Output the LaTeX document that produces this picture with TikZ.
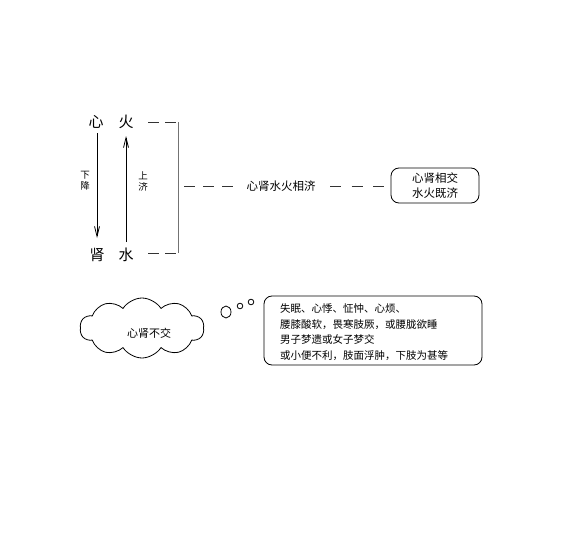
\documentclass[tikz,border=0pt]{standalone}
\usepackage{fontspec}
\setmainfont{Noto Sans CJK SC}
\usetikzlibrary{shapes.symbols,arrows.meta}
\begin{document}
\begin{tikzpicture}[x=1pt,y=-1pt,
  big/.style={font=\fontsize{15}{16}\selectfont,inner sep=1pt},
  small/.style={font=\fontsize{9.5}{11}\selectfont,align=center,inner sep=1pt},
  mid/.style={font=\fontsize{11.5}{14}\selectfont,inner sep=1pt},
  dashln/.style={draw=black!80,line width=0.8pt,dash pattern=on 11pt off 6pt},
  brk/.style={draw=black!55,line width=0.9pt},
  arr/.style={draw=black,line width=0.8pt,-{Straight Barb[length=10pt,width=5pt]}},
  rbox/.style={draw=black,line width=0.8pt,rounded corners=8pt}]
\useasboundingbox (0,0) rectangle (582,554);
\node[big] (xin) at (96,122) {心};
\node[big] (huo) at (126,122) {火};
\node[big] (shen) at (97,255) {肾};
\node[big] (shui) at (126,255) {水};
\draw[arr] (97,133) -- (97,238);
\draw[arr] (126,242) -- (126,136);
\node[small] (xj) at (85,181) {下\\降};
\node[small] (sj) at (143,181) {上\\济};
\coordinate (t1) at (148,122);
\coordinate (t2) at (178,122);
\coordinate (b1) at (148,253);
\coordinate (b2) at (178,253);
\draw[dashln] (t1) -- (t2);
\draw[dashln] (b1) -- (b2);
\draw[brk] (t2) -- (b2);
\node[mid] (mid) at (281,186) {心肾水火相济};
\coordinate (m1) at (184,186);
\coordinate (m1e) at (233,186);
\coordinate (m2s) at (330,186);
\coordinate (m2) at (384,186);
\draw[dashln,dash pattern=on 11pt off 8pt] (m1) -- (m1e);
\draw[dashln,dash pattern=on 11pt off 10.5pt] (m2s) -- (m2);
\node[rbox,mid,minimum width=88pt,minimum height=35pt,align=center,font=\fontsize{11.5}{15}\selectfont] (jiao) at (435,185.5) {心肾相交\\水火既济};
\node[cloud,draw,line width=0.8pt,cloud puffs=10,cloud puff arc=115,aspect=2.1,minimum width=124pt,minimum height=60pt,inner sep=0pt] (cloud) at (142,328) {};
\node[mid,font=\fontsize{11}{13}\selectfont] (cl) at (149,333) {心肾不交};
\draw[line width=0.8pt] (226,312) ellipse (5pt and 6pt);
\draw[line width=0.8pt] (240,306) circle (2.8pt);
\draw[line width=0.8pt] (251,302) circle (2.8pt);
\node[rbox,minimum width=218pt,minimum height=69pt] (box) at (373,330.5) {};
\node[anchor=north west,align=left,inner sep=0pt,font=\fontsize{10.5}{15.5}\selectfont] (txt) at (280,303.5) {失眠、心悸、怔忡、心烦、\\腰膝酸软，畏寒肢厥，或腰胧欲睡\\男子梦遗或女子梦交\\或小便不利，肢面浮肿，下肢为甚等};
\end{tikzpicture}
\end{document}
